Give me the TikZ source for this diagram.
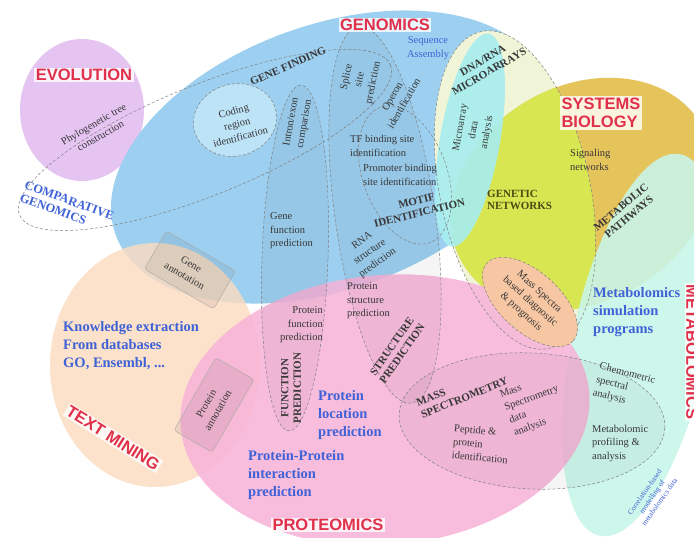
\documentclass[tikz,border=0pt]{standalone}
\usepackage{fontspec}
\setmainfont{Liberation Serif}
\setsansfont{Liberation Sans}
\usetikzlibrary{positioning}
\definecolor{cevo}{HTML}{E6C4F2}
\definecolor{cgen}{HTML}{9DD0F0}
\definecolor{ctxt}{HTML}{FCDBC0}
\definecolor{cchip}{HTML}{F1F5D8}
\definecolor{csys}{HTML}{E6C45C}
\definecolor{clime}{HTML}{D8E652}
\definecolor{cmicro}{HTML}{A6EEF0}
\definecolor{cmet}{HTML}{C8F6EA}
\definecolor{cpro}{HTML}{F7B2D8}
\definecolor{cdiag}{HTML}{F7C6A2}
\definecolor{ccode}{HTML}{BDE3F7}
\definecolor{titlered}{HTML}{E0304A}
\definecolor{hintblue}{HTML}{3F62D6}
\definecolor{ink}{HTML}{383838}
\definecolor{olive}{HTML}{4A4A14}
\tikzset{
  sub/.style={draw=black!50, dash pattern=on 3pt off 2pt, line width=.5pt},
  title/.style={font=\sffamily\bfseries\fontsize{16.5}{18.5}\selectfont, text=titlered,
                fill=white, fill opacity=.8, text opacity=1, inner sep=1.5pt, align=left},
  topic/.style={font=\bfseries\fontsize{11}{12.5}\selectfont, text=ink, align=center, inner sep=1pt},
  item/.style={font=\fontsize{10.5}{13.5}\selectfont, text=ink, align=center, inner sep=1pt},
  hint/.style={font=\bfseries\fontsize{14.5}{18}\selectfont, text=hintblue, align=left, inner sep=1pt},
  tag/.style={draw=black!35, fill=black, fill opacity=.06, rounded corners=3pt}
}
\begin{document}
\begin{tikzpicture}[x=1pt,y=-1pt]
\useasboundingbox (0,0) rectangle (694,538);
\fill[white] (0,0) rectangle (694,538);

% big fields
\fill[cevo] (82,110) ellipse [x radius=62, y radius=71];
\fill[cgen, rotate around={20:(330,157)}] (330,157) ellipse [x radius=228, y radius=132];
\fill[ctxt, fill opacity=.82] (155,365) ellipse [x radius=105, y radius=122];
\fill[cchip, rotate around={12:(515,190)}] (515,190) ellipse [x radius=75, y radius=162];
\fill[csys, rotate around={30:(582,194)}] (582,194) ellipse [x radius=138, y radius=108];
\begin{scope}
  \clip[rotate around={12:(515,190)}] (515,190) ellipse [x radius=75, y radius=162];
  \fill[clime, rotate around={30:(582,194)}] (582,194) ellipse [x radius=138, y radius=108];
\end{scope}
\fill[cmicro, fill opacity=.9, rotate around={-10:(470,140)}] (470,140) ellipse [x radius=30, y radius=108];
\fill[cmet, fill opacity=.88, rotate around={-12:(640,345)}] (640,345) ellipse [x radius=68, y radius=195];
\fill[cpro, fill opacity=.85, rotate around={5:(385,410)}] (385,410) ellipse [x radius=205, y radius=135];

% dashed sub-fields
\draw[sub, rotate around={12:(515,190)}] (515,190) ellipse [x radius=75, y radius=162];
\draw[sub, rotate around={22:(205,140)}] (205,140) ellipse [x radius=200, y radius=55];
\draw[sub, fill=ccode, rotate around={15:(235,120)}] (235,120) ellipse [x radius=42, y radius=36];
\draw[sub, fill=black, fill opacity=.04, rotate around={-2:(295,258)}] (295,258) ellipse [x radius=33, y radius=173];
\draw[sub, fill=black, fill opacity=.04, rotate around={8:(385,215)}] (385,215) ellipse [x radius=50, y radius=190];
\draw[sub, rotate around={20:(405,175)}] (405,175) ellipse [x radius=42, y radius=72];
\draw[sub, fill=cdiag, rotate around={-42:(530,302)}] (530,302) ellipse [x radius=58, y radius=30];
\draw[sub, fill=black, fill opacity=.04, rotate around={-3:(532,421)}] (532,421) ellipse [x radius=133, y radius=68];
\draw[tag, rotate around={-30:(190,270)}] (150,248) rectangle (230,292);
\draw[tag, rotate around={60:(214,405)}] (172,383) rectangle (256,427);

% field titles
\node[title] (evo) at (84,75) {EVOLUTION};
\node[title] (gen) at (385,25) {GENOMICS};
\node[title] (sys) at (601,113) {SYSTEMS\\BIOLOGY};
\node[title, rotate=-32] (txt) at (113,438) {TEXT MINING};
\node[title] (pro) at (328,525) {PROTEOMICS};
\node[title, rotate=-90] (met) at (692,352) {METABOLOMICS};

% blue notes
\node[hint, font=\bfseries\fontsize{12.5}{14}\selectfont, rotate=-20] (cmp) at (67,207) {COMPARATIVE\\GENOMICS};
\node[hint, font=\fontsize{10.5}{14}\selectfont, align=center] (seq) at (428,48) {Sequence\\Assembly};
\node[hint, anchor=west] (know) at (62,346) {Knowledge extraction\\From databases\\GO, Ensembl, ...};
\node[hint, anchor=west] (sim) at (592,312) {Metabolomics\\simulation\\programs};
\node[hint, anchor=west] (loc) at (317,415) {Protein\\location\\prediction};
\node[hint, anchor=west] (ppi) at (247,475) {Protein-Protein\\interaction\\prediction};
\node[hint, font=\fontsize{7.5}{9}\selectfont, align=center, rotate=55] (corr) at (652,497) {Correlation-based\\modelling of\\metabolomics data};

% topics
\node[topic, rotate=24] (find) at (288,66) {GENE FINDING};
\node[topic, rotate=14] (motif) at (418,207) {MOTIF\\IDENTIFICATION};
\node[topic, rotate=30] (chip) at (486,66) {DNA/RNA\\MICROARRAYS};
\node[topic, text=olive, anchor=west, align=left] (net) at (486,200) {GENETIC\\NETWORKS};
\node[topic, rotate=40] (path) at (625,212) {METABOLIC\\PATHWAYS};
\node[topic, rotate=55] (strc) at (397,350) {STRUCTURE\\PREDICTION};
\node[topic, rotate=90] (func) at (291,388) {FUNCTION\\PREDICTION};
\node[topic, rotate=22, align=left] (ms) at (462,392) {MASS\\SPECTROMETRY};

% single tasks
\node[item, rotate=30] (phylo) at (97,130) {Phylogenetic tree\\construction};
\node[item, rotate=15] (coding) at (237,124) {Coding\\region\\identification};
\node[item, rotate=80] (intron) at (298,123) {Intron/exon\\comparison};
\node[item, rotate=78] (splice) at (360,80) {Splice\\site\\prediction};
\node[item, rotate=60] (operon) at (398,100) {Operon\\identification};
\node[item, anchor=west, align=left] (tf) at (349,146) {TF binding site\\identification};
\node[item, anchor=west, align=left] (prom) at (362,175) {Promoter binding\\site identification};
\node[item, rotate=35] (rna) at (370,252) {RNA\\structure\\prediction};
\node[item, anchor=west, align=left] (gfun) at (269,231) {Gene\\function\\prediction};
\node[item, rotate=80] (arr) at (474,130) {Microarray\\data\\analysis};
\node[item, anchor=west, align=left] (sig) at (569,160) {Signaling\\networks};
\node[item, rotate=-30] (gann) at (188,270) {Gene\\annotation};
\node[item, rotate=60] (pann) at (212,407) {Protein\\annotation};
\node[item, anchor=east, align=right] (pfun) at (324,325) {Protein\\function\\prediction};
\node[item, anchor=west, align=left] (pstr) at (346,301) {Protein\\structure\\prediction};
\node[item, rotate=-42] (diag) at (530,302) {Mass Spectra\\based diagnostic\\\& prognosis};
\node[item, rotate=20, align=left] (msa) at (534,405) {Mass\\Spectrometry\\data\\analysis};
\node[item, rotate=-5, align=left] (pep) at (481,444) {Peptide \&\\protein\\identification};
\node[item, rotate=-15, align=left] (chem) at (624,387) {Chemometric\\spectral\\analysis};
\node[item, anchor=west, align=left] (prof) at (591,443) {Metabolomic\\profiling \&\\analysis};
\end{tikzpicture}
\end{document}
